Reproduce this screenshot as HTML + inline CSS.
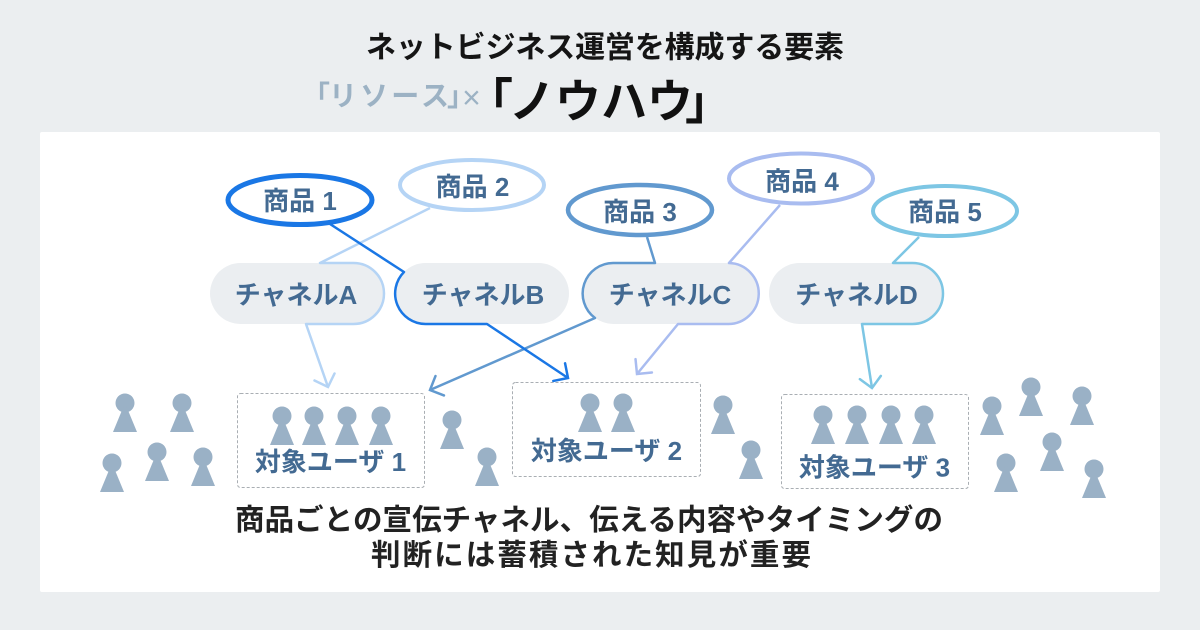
<!DOCTYPE html>
<html><head><meta charset="utf-8">
<style>
html,body{margin:0;padding:0;background:#ebeef0;}
svg{display:block;}
text{font-family:"Liberation Sans","Noto Sans CJK JP",sans-serif;}
</style></head>
<body>
<svg width="1200" height="630" viewBox="0 0 1200 630" xmlns="http://www.w3.org/2000/svg">
<defs>
<marker id="a1" markerUnits="userSpaceOnUse" markerWidth="40" markerHeight="40" viewBox="-20 -20 40 40" refX="0" refY="0" orient="auto" overflow="visible"><path d="M-10.6,-10.6 L0,0 L-10.6,10.6" fill="none" stroke="#1a77e5" stroke-width="2.5" stroke-linecap="round"/></marker>
<marker id="a2" markerUnits="userSpaceOnUse" markerWidth="40" markerHeight="40" viewBox="-20 -20 40 40" refX="0" refY="0" orient="auto" overflow="visible"><path d="M-10.6,-10.6 L0,0 L-10.6,10.6" fill="none" stroke="#b5d4f5" stroke-width="2.5" stroke-linecap="round"/></marker>
<marker id="a3" markerUnits="userSpaceOnUse" markerWidth="40" markerHeight="40" viewBox="-20 -20 40 40" refX="0" refY="0" orient="auto" overflow="visible"><path d="M-10.6,-10.6 L0,0 L-10.6,10.6" fill="none" stroke="#6199cf" stroke-width="2.5" stroke-linecap="round"/></marker>
<marker id="a4" markerUnits="userSpaceOnUse" markerWidth="40" markerHeight="40" viewBox="-20 -20 40 40" refX="0" refY="0" orient="auto" overflow="visible"><path d="M-10.6,-10.6 L0,0 L-10.6,10.6" fill="none" stroke="#a9bcf0" stroke-width="2.5" stroke-linecap="round"/></marker>
<marker id="a5" markerUnits="userSpaceOnUse" markerWidth="40" markerHeight="40" viewBox="-20 -20 40 40" refX="0" refY="0" orient="auto" overflow="visible"><path d="M-10.6,-10.6 L0,0 L-10.6,10.6" fill="none" stroke="#7dc6e4" stroke-width="2.5" stroke-linecap="round"/></marker>
</defs>

<rect x="0" y="0" width="1200" height="630" fill="#ebeef0"/>
<rect x="40" y="132" width="1120" height="460" rx="2" fill="#ffffff"/>

<!-- Title -->
<text x="605" y="57.5" font-size="30" font-weight="700" fill="#151515" text-anchor="middle" textLength="478" lengthAdjust="spacing">ネットビジネス運営を構成する要素</text>

<!-- Subtitle -->
<text x="302" y="105.5" font-size="28" font-weight="700" fill="#9cb2c4">「</text>
<text x="329" y="105.5" font-size="28" font-weight="700" fill="#9cb2c4" textLength="120" lengthAdjust="spacing">リソース</text>
<text x="447" y="105.5" font-size="28" font-weight="700" fill="#9cb2c4">」</text>
<text x="471.5" y="108.5" font-size="32" fill="#9cb2c4" text-anchor="middle">×</text>
<text x="466" y="117.5" font-size="47" font-weight="700" fill="#111">「</text>
<text x="509" y="117.5" font-size="46" font-weight="700" fill="#111" textLength="184" lengthAdjust="spacing">ノウハウ</text>
<text x="685" y="119" font-size="47" font-weight="700" fill="#111">」</text>

<!-- Pills -->
<g fill="#ebeef1">
<rect x="210" y="263" width="174" height="61" rx="30.5"/>
<rect x="395" y="263" width="174" height="61" rx="30.5"/>
<rect x="583" y="263" width="175" height="61" rx="30.5"/>
<rect x="769" y="263" width="174" height="61" rx="30.5"/>
</g>

<!-- Dashed boxes -->
<g fill="none" stroke="#a9aeb3" stroke-width="1" stroke-dasharray="3 2">
<rect x="237.5" y="393.5" width="187" height="94" rx="3"/>
<rect x="512.5" y="382.5" width="188" height="94" rx="3"/>
<rect x="781.5" y="394.5" width="187" height="94" rx="3"/>
</g>

<!-- Connectors -->
<g fill="none" stroke-width="2.5" stroke-linejoin="round">
<path d="M430,208 L320,263 L353.5,263 A30.5,30.5 0 0 1 353.5,324 L306,324 L328,387" stroke="#b5d4f5" marker-end="url(#a2)"/>
<path d="M647,237 L655,263 L613.5,263 A30.5,30.5 0 0 0 595,318 L430,390" stroke="#6199cf" marker-end="url(#a3)"/>
<path d="M330,224 L404,272 A30.5,30.5 0 0 0 425.5,324 L487,324 L568,378" stroke="#1a77e5" marker-end="url(#a1)"/>
<path d="M780,205 L729,263 A30.5,30.5 0 0 1 727.5,324 L678,324 L637,374" stroke="#a9bcf0" marker-end="url(#a4)"/>
<path d="M919,237 L893,263 L912.5,263 A30.5,30.5 0 0 1 912.5,324 L862,324 L872,388" stroke="#7dc6e4" marker-end="url(#a5)"/>
</g>

<!-- Ellipses -->
<g fill="#ffffff">
<ellipse cx="300" cy="200" rx="72" ry="24.5" stroke="#1a77e5" stroke-width="5"/>
<ellipse cx="472" cy="185" rx="72" ry="25" stroke="#b5d4f5" stroke-width="4"/>
<ellipse cx="640" cy="210" rx="72" ry="25" stroke="#6199cf" stroke-width="4.5"/>
<ellipse cx="801" cy="178.5" rx="72" ry="25" stroke="#a9bcf0" stroke-width="4"/>
<ellipse cx="945" cy="211" rx="72" ry="25" stroke="#7dc6e4" stroke-width="4"/>
</g>

<!-- Labels -->
<g font-size="26" font-weight="700" fill="#436a92" text-anchor="middle">
<text x="300" y="210">商品 1</text>
<text x="472.5" y="196">商品 2</text>
<text x="640" y="221">商品 3</text>
<text x="802" y="190.5">商品 4</text>
<text x="945" y="221">商品 5</text>
<text x="296" y="304">チャネルA</text>
<text x="483" y="304">チャネルB</text>
<text x="670" y="304">チャネルC</text>
<text x="856.5" y="304">チャネルD</text>
<text x="330.5" y="471">対象ユーザ 1</text>
<text x="606.5" y="460">対象ユーザ 2</text>
<text x="874.5" y="476.5">対象ユーザ 3</text>
</g>

<!-- People -->
<g fill="#9ab1c6">
<g transform="translate(125,403)"><circle r="9.5"/><polygon points="0,0 -12,29 12,29"/></g>
<g transform="translate(182,403)"><circle r="9.5"/><polygon points="0,0 -12,29 12,29"/></g>
<g transform="translate(112,463)"><circle r="9.5"/><polygon points="0,0 -12,29 12,29"/></g>
<g transform="translate(157,452)"><circle r="9.5"/><polygon points="0,0 -12,29 12,29"/></g>
<g transform="translate(203,457)"><circle r="9.5"/><polygon points="0,0 -12,29 12,29"/></g>

<g transform="translate(282,416)"><circle r="9.5"/><polygon points="0,0 -12,29 12,29"/></g>
<g transform="translate(314,416)"><circle r="9.5"/><polygon points="0,0 -12,29 12,29"/></g>
<g transform="translate(347,416)"><circle r="9.5"/><polygon points="0,0 -12,29 12,29"/></g>
<g transform="translate(381,416)"><circle r="9.5"/><polygon points="0,0 -12,29 12,29"/></g>

<g transform="translate(452,420)"><circle r="9.5"/><polygon points="0,0 -12,29 12,29"/></g>
<g transform="translate(487,457)"><circle r="9.5"/><polygon points="0,0 -12,29 12,29"/></g>

<g transform="translate(590,403)"><circle r="9.5"/><polygon points="0,0 -12,29 12,29"/></g>
<g transform="translate(623,403)"><circle r="9.5"/><polygon points="0,0 -12,29 12,29"/></g>

<g transform="translate(723,405)"><circle r="9.5"/><polygon points="0,0 -12,29 12,29"/></g>
<g transform="translate(751,450)"><circle r="9.5"/><polygon points="0,0 -12,29 12,29"/></g>

<g transform="translate(823,415)"><circle r="9.5"/><polygon points="0,0 -12,29 12,29"/></g>
<g transform="translate(857,415)"><circle r="9.5"/><polygon points="0,0 -12,29 12,29"/></g>
<g transform="translate(891,415)"><circle r="9.5"/><polygon points="0,0 -12,29 12,29"/></g>
<g transform="translate(924,415)"><circle r="9.5"/><polygon points="0,0 -12,29 12,29"/></g>

<g transform="translate(992,406)"><circle r="9.5"/><polygon points="0,0 -12,29 12,29"/></g>
<g transform="translate(1031,387)"><circle r="9.5"/><polygon points="0,0 -12,29 12,29"/></g>
<g transform="translate(1082,396)"><circle r="9.5"/><polygon points="0,0 -12,29 12,29"/></g>
<g transform="translate(1052,442)"><circle r="9.5"/><polygon points="0,0 -12,29 12,29"/></g>
<g transform="translate(1006,463)"><circle r="9.5"/><polygon points="0,0 -12,29 12,29"/></g>
<g transform="translate(1094,469)"><circle r="9.5"/><polygon points="0,0 -12,29 12,29"/></g>
</g>

<!-- Bottom text -->
<text x="589" y="530" font-size="29.5" font-weight="700" fill="#222" text-anchor="middle" textLength="708" lengthAdjust="spacing">商品ごとの宣伝チャネル、伝える内容やタイミングの</text>
<text x="591" y="565" font-size="29.5" font-weight="700" fill="#222" text-anchor="middle" textLength="440" lengthAdjust="spacing">判断には蓄積された知見が重要</text>
</svg>
</body></html>
